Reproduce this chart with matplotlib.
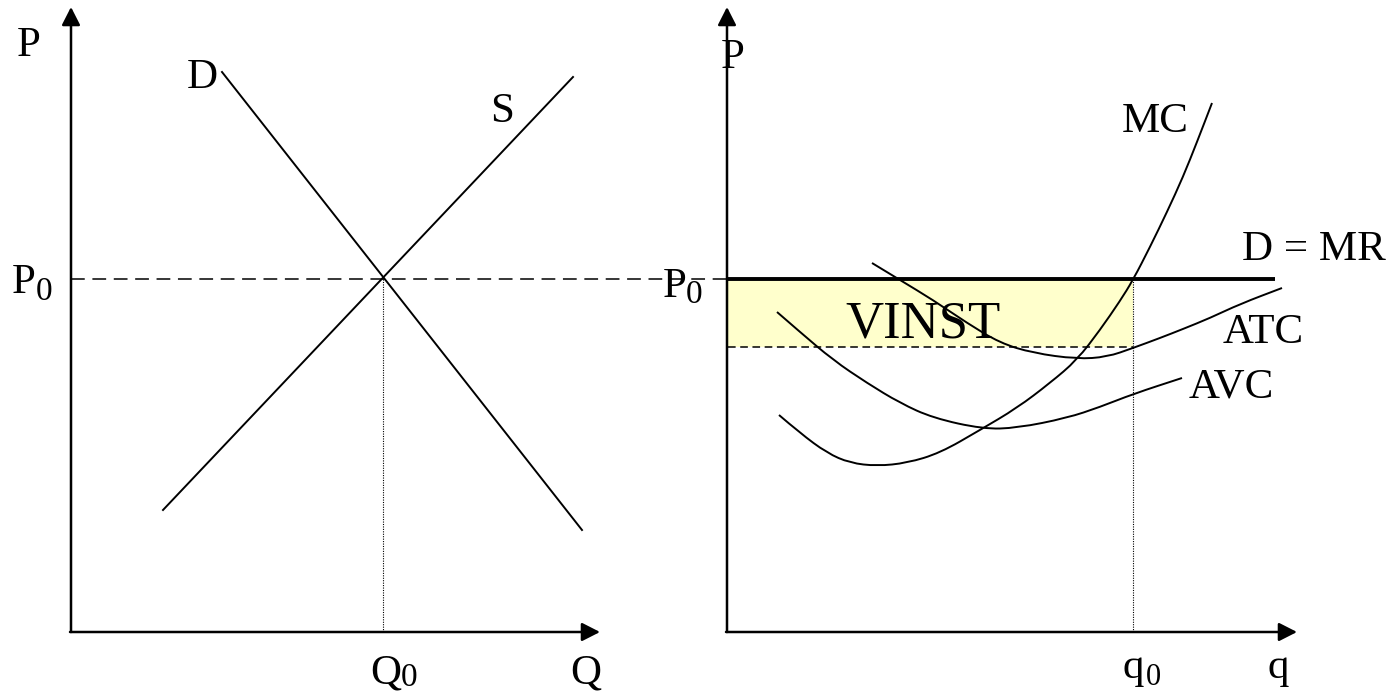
import matplotlib
matplotlib.use("Agg")
import matplotlib.pyplot as plt
from matplotlib.path import Path
from matplotlib.patches import PathPatch

plt.rcParams['font.family'] = ['Liberation Serif', 'DejaVu Serif']

# diagram coordinates (pixel units of the 1400x693 picture, y downwards)
# left panel: market
demand_x = [222, 582]
demand_y = [72, 530]
supply_x = [163, 573]
supply_y = [510, 77]
eq_q, eq_p = 383, 279

# right panel: firm
firm_q0 = 1133
mr_x = [728, 1275]
atc_at_q0 = 347

mc_x = [779, 800, 827, 850, 877, 907, 940, 980, 1017, 1050, 1077, 1100, 1120,
        1133, 1150, 1167, 1183, 1197, 1212]
mc_y = [415, 433, 453, 463, 466, 463, 453, 430, 408, 383, 360, 330, 301,
        280, 247, 212, 177, 142, 103]

atc_x = [872, 900, 933, 967, 1000, 1033, 1077, 1107, 1133, 1160, 1183, 1210,
         1240, 1282]
atc_y = [263, 280, 300, 323, 343, 353, 359, 357, 348, 338, 329, 318,
         304, 288]

avc_x = [777, 800, 833, 867, 900, 933, 983, 1017, 1067, 1100, 1133, 1182]
avc_y = [312, 332, 360, 383, 403, 418, 429, 428, 418, 407, 394, 378]


def curve(ax, xs, ys, lw=1.4):
    # smooth line through the read points (quadratic bezier pieces)
    verts = [(xs[0], ys[0])]
    codes = [Path.MOVETO]
    for i in range(1, len(xs) - 1):
        verts += [(xs[i], ys[i]), ((xs[i] + xs[i + 1]) / 2, (ys[i] + ys[i + 1]) / 2)]
        codes += [Path.CURVE3, Path.CURVE3]
    verts.append((xs[-1], ys[-1]))
    codes.append(Path.LINETO)
    ax.add_patch(PathPatch(Path(verts, codes), fill=False, lw=lw, color='black'))


fig = plt.figure(figsize=(14, 6.93), dpi=100)
ax = fig.add_axes([0, 0, 1, 1])
ax.set_xlim(0, 1400)
ax.set_ylim(693, 0)
ax.axis('off')

arrow = dict(arrowstyle='-|>,head_length=0.55,head_width=0.28', color='black',
             lw=1.8, mutation_scale=20, shrinkA=0, shrinkB=0)

# axes with arrows
for x0, x_end in [(71, 600), (727, 1297)]:
    ax.annotate('', xy=(x0, 7), xytext=(x0, 632), arrowprops=arrow)
    ax.annotate('', xy=(x_end, 632), xytext=(x0 - 1, 632), arrowprops=arrow)

# profit area
ax.fill_between([728, firm_q0], eq_p, atc_at_q0, color='#ffffcc', lw=0, zorder=0)

# market
ax.plot(demand_x, demand_y, color='black', lw=1.4)
ax.plot(supply_x, supply_y, color='black', lw=1.4)
ax.plot([71, 727], [eq_p, eq_p], color='black', lw=1.1, dashes=(9, 5))
ax.plot([eq_q, eq_q], [eq_p, 632], color='black', lw=0.8, dashes=(1, 1.2))

# firm
ax.plot(mr_x, [eq_p, eq_p], color='black', lw=2.8, solid_capstyle='butt')
ax.plot([728, firm_q0], [atc_at_q0, atc_at_q0], color='black', lw=1.1, dashes=(5, 3))
ax.plot([firm_q0, firm_q0], [eq_p, 632], color='black', lw=0.8, dashes=(1, 1.2))
curve(ax, mc_x, mc_y)
curve(ax, atc_x, atc_y)
curve(ax, avc_x, avc_y)

fs = 31
sub = 24
ax.text(29, 56, 'P', fontsize=fs, ha='center', va='baseline')
ax.text(202, 88, 'D', fontsize=fs, ha='center', va='baseline')
ax.text(502, 122, 'S', fontsize=fs, ha='center', va='baseline')
ax.text(12, 293, 'P', fontsize=fs, ha='left', va='baseline')
ax.text(36, 300, '0', fontsize=sub, ha='left', va='baseline')
ax.text(370, 683, 'Q', fontsize=fs, ha='left', va='baseline')
ax.text(401, 686, '0', fontsize=sub, ha='left', va='baseline')
ax.text(586, 683, 'Q', fontsize=fs, ha='center', va='baseline')

ax.text(733, 68, 'P', fontsize=fs, ha='center', va='baseline')
ax.text(663, 297, 'P', fontsize=fs, ha='left', va='baseline')
ax.text(686, 303, '0', fontsize=sub, ha='left', va='baseline')
ax.text(1123, 678, 'q', fontsize=fs, ha='left', va='baseline')
ax.text(1146, 685, '0', fontsize=22, ha='left', va='baseline')
ax.text(1278, 678, 'q', fontsize=fs, ha='center', va='baseline')
ax.text(1155, 132, 'MC', fontsize=fs, ha='center', va='baseline')
ax.text(1314, 260, 'D = MR', fontsize=fs, ha='center', va='baseline')
ax.text(1263, 343, 'ATC', fontsize=fs, ha='center', va='baseline')
ax.text(1231, 397, 'AVC', fontsize=fs, ha='center', va='baseline')
ax.text(923, 338, 'VINST', fontsize=38, ha='center', va='baseline')

fig.savefig('out.png', dpi=100)
